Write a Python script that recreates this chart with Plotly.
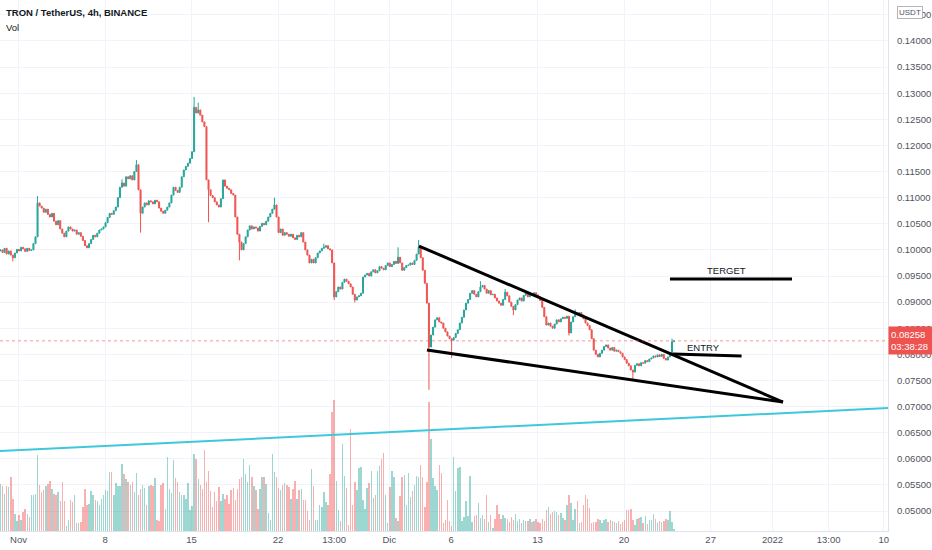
import pandas as pd
import plotly.graph_objects as go

# ---------------- data ----------------
start_time = "2021-10-30 13:00"   # first visible 4h candle
first_open = 0.0998

closes = [
    0.1000, 0.0995, 0.1003, 0.0992, 0.0998, 0.0990, 0.0985, 0.0994, 0.1001, 0.0998,
    0.1005, 0.1002, 0.0997, 0.1003, 0.0999, 0.1000, 0.1012, 0.1025, 0.1090, 0.1084,
    0.1080, 0.1072, 0.1078, 0.1068, 0.1063, 0.1070, 0.1055, 0.1048, 0.1056, 0.1040,
    0.1032, 0.1025, 0.1036, 0.1044, 0.1040, 0.1036, 0.1038, 0.1030, 0.1033, 0.1026,
    0.1018, 0.1008, 0.1004, 0.1012, 0.1020, 0.1028, 0.1025, 0.1032, 0.1038, 0.1040,
    0.1044, 0.1052, 0.1062, 0.1070, 0.1068, 0.1075, 0.1082, 0.1100, 0.1120, 0.1128,
    0.1122, 0.1140, 0.1136, 0.1142, 0.1134, 0.1150, 0.1163, 0.1115, 0.1070, 0.1082,
    0.1090, 0.1086, 0.1094, 0.1092, 0.1088, 0.1095, 0.1092, 0.1080, 0.1074, 0.1070,
    0.1076, 0.1082, 0.1090, 0.1105, 0.1120, 0.1114, 0.1110, 0.1120, 0.1140, 0.1153,
    0.1160, 0.1166, 0.1175, 0.1188, 0.1273, 0.1262, 0.1268, 0.1258, 0.1245, 0.1236,
    0.1134, 0.1115, 0.1104, 0.1100, 0.1092, 0.1086, 0.1082, 0.1098, 0.1134, 0.1122,
    0.1118, 0.1115, 0.1108, 0.1105, 0.1063, 0.1030, 0.1015, 0.1000, 0.1012, 0.1025,
    0.1038, 0.1046, 0.1040, 0.1044, 0.1042, 0.1036, 0.1045, 0.1051, 0.1048, 0.1055,
    0.1063, 0.1070, 0.1078, 0.1086, 0.1063, 0.1033, 0.1040, 0.1028, 0.1033, 0.1030,
    0.1026, 0.1030, 0.1023, 0.1020, 0.1028, 0.1025, 0.1033, 0.1015, 0.1000, 0.0990,
    0.0975, 0.0982, 0.0975, 0.0985, 0.0994, 0.0998, 0.1003, 0.1005, 0.1008, 0.1002,
    0.1000, 0.0975, 0.0910, 0.0920, 0.0929, 0.0925, 0.0938, 0.0944, 0.0940, 0.0935,
    0.0929, 0.0915, 0.0904, 0.0910, 0.0912, 0.0917, 0.0948, 0.0952, 0.0955, 0.0950,
    0.0958, 0.0962, 0.0956, 0.0960, 0.0968, 0.0965, 0.0962, 0.0970, 0.0975, 0.0968,
    0.0972, 0.0978, 0.0974, 0.0986, 0.0975, 0.0961, 0.0966, 0.0970, 0.0971, 0.0975,
    0.0972, 0.0980, 0.0992, 0.1005, 0.0985, 0.0961, 0.0936, 0.0898, 0.0814, 0.0837,
    0.0852, 0.0866, 0.0870, 0.0862, 0.0860, 0.0850, 0.0843, 0.0835, 0.0830, 0.0827,
    0.0832, 0.0840, 0.0847, 0.0860, 0.0871, 0.0885, 0.0898, 0.0905, 0.0917, 0.0922,
    0.0915, 0.0910, 0.0920, 0.0929, 0.0932, 0.0925, 0.0917, 0.0922, 0.0914, 0.0915,
    0.0908, 0.0902, 0.0898, 0.0894, 0.0905, 0.0919, 0.0912, 0.0900, 0.0892, 0.0885,
    0.0895, 0.0904, 0.0908, 0.0902, 0.0913, 0.0918, 0.0910, 0.0915, 0.0913, 0.0918,
    0.0914, 0.0910, 0.0903, 0.0890, 0.0872, 0.0856, 0.0860, 0.0854, 0.0850, 0.0858,
    0.0866, 0.0862, 0.0868, 0.0871, 0.0869, 0.0873, 0.0841, 0.0862, 0.0872, 0.0879,
    0.0876, 0.0880, 0.0875, 0.0868, 0.0860, 0.0855, 0.0847, 0.0830, 0.0808, 0.0800,
    0.0795, 0.0802, 0.0808, 0.0815, 0.0818, 0.0812, 0.0808, 0.0813, 0.0806, 0.0808,
    0.0805, 0.0802, 0.0795, 0.0790, 0.0783, 0.0778, 0.0770, 0.0766, 0.0779, 0.0782,
    0.0778, 0.0784, 0.0783, 0.0788, 0.0786, 0.0791, 0.0793, 0.0797, 0.0795, 0.0799,
    0.0796, 0.0800, 0.0792, 0.0789, 0.0795, 0.0800, 0.0824, 0.08258,
]

# notable wicks (candle index -> price)
wick_highs = {18: 0.1103, 59: 0.1135, 66: 0.1172, 94: 0.1293, 96: 0.1282,
              133: 0.1100, 157: 0.1012, 193: 0.1005, 203: 0.1019,
              233: 0.0940, 245: 0.0925, 279: 0.0886, 326: 0.0830}
wick_lows = {6: 0.0978, 68: 0.1033, 101: 0.1053, 116: 0.0980, 162: 0.0904,
             172: 0.0899, 208: 0.0732, 219: 0.0793, 249: 0.0875,
             276: 0.0836, 307: 0.0751}

volumes = [
    143, 136, 113, 138, 133, 163, 98, 53, 30,
    48, 33, 58, 68, 53, 43, 108, 108, 113, 230, 140,
    118, 123, 138, 143, 153, 128, 113, 108, 118, 90, 150, 90,
    16, 33, 93, 88, 110, 23,
    23, 28, 73, 128, 80, 83, 120, 110, 95, 90, 78,
    98, 110, 123, 120, 180, 180, 110,
    146, 138, 138, 203, 173, 158, 150, 140, 150, 118, 176,
    108, 128, 140, 130, 78, 138, 140, 136, 160,
    33, 30, 140, 146, 66, 225, 128, 115, 215,
    160, 148, 118, 110, 108, 98, 146, 63,
    75, 233, 218, 158, 140, 128, 246,
    150, 183, 120, 73, 118, 90, 133,
    90, 112, 98, 110, 83, 125, 130, 93, 128,
    158, 165, 218, 173, 150, 200, 165, 136,
    123, 68, 128, 165, 165, 143, 56,
    33, 233, 178, 163, 130, 126, 140,
    146, 140, 133, 98, 128, 153, 96,
    123, 128, 93, 93, 60, 33, 188, 136, 33,
    33, 78, 73, 118, 88, 78, 173,
    360, 398, 153,
    63, 30, 263,
    168, 130, 18, 310,
    80, 150, 126, 190, 193, 93, 66,
    130, 146, 183, 100, 110, 183, 196,
    218, 236, 108, 23, 133, 183, 163, 40, 30,
    106, 165, 170, 78, 175, 103, 120, 140, 168, 165, 200, 163, 73,
    150, 393, 280, 160, 136, 123, 201, 176, 23, 33,
    95, 30, 16, 226, 120, 190, 193, 30,
    43, 90, 46, 168, 28, 46, 50,
    86, 38, 50, 36, 108, 26, 48,
    10, 36, 78, 53, 36, 50, 40, 36, 28, 43, 33, 53,
    30, 36, 23, 33, 30, 30, 36, 28, 30, 36, 26, 23, 36, 30,
    63, 73, 53, 58, 60, 58, 48, 56, 40, 33, 78, 110, 86, 33, 68, 90,
    25, 26, 78, 108, 98, 70, 23, 26, 28, 36, 33, 23,
    33, 36, 28, 33, 30, 28, 23, 30, 20, 26, 33, 63, 65,
    68, 33, 18, 36, 40, 43, 23, 46, 20, 33, 33, 53,
    36, 23, 30, 28, 30, 36, 33, 60, 28, 6,
]

x_tick_vals = ["2021-11-01", "2021-11-08", "2021-11-15", "2021-11-22",
               "2021-11-26 13:00", "2021-12-01", "2021-12-06", "2021-12-13",
               "2021-12-20", "2021-12-27", "2022-01-01", "2022-01-05 13:00",
               "2022-01-10"]
x_tick_text = ["Nov", "8", "15", "22", "13:00", "Dic", "6", "13", "20", "27",
               "2022", "13:00", "10"]

# hand-drawn lines from the reference
upper_trend_x = ["2021-12-03 09:40", "2022-01-01 20:25"]
upper_trend_y = [0.10074, 0.07087]
lower_trend_x = ["2021-12-04 01:10", "2022-01-01 20:25"]
lower_trend_y = [0.08083, 0.07087]
target_x = ["2021-12-23 17:00", "2022-01-02 14:00"]
target_y = [0.09442, 0.09442]
entry_x = ["2021-12-23 23:00", "2021-12-29 12:00"]
entry_y = [0.08006, 0.07968]
support_x = ["2021-10-30 12:00", "2022-01-10 08:30"]
support_y = [0.06149, 0.06970]

last_price = 0.08258
countdown = "03:38:28"

# ---------------- build ----------------
n = min(len(closes), len(volumes))
closes = closes[:n]
volumes = volumes[:n]
times = pd.date_range(start_time, periods=n, freq="4h")
opens = [first_open] + closes[:-1]
highs = [max(o, c) for o, c in zip(opens, closes)]
lows = [min(o, c) for o, c in zip(opens, closes)]
for k, v in wick_highs.items():
    if k < n:
        highs[k] = max(highs[k], v)
for k, v in wick_lows.items():
    if k < n:
        lows[k] = min(lows[k], v)

GREEN = "#26a69a"
RED = "#ef5350"
vol_colors = ["rgba(38,166,154,0.45)" if c >= o else "rgba(239,83,80,0.45)"
              for o, c in zip(opens, closes)]

FONT = "Liberation Sans"
TXT = "#131722"

fig = go.Figure()
fig.add_trace(go.Bar(x=times, y=volumes, marker_color=vol_colors,
                     marker_line_width=0, width=4 * 3600 * 1000 * 0.7,
                     yaxis="y", hoverinfo="skip"))

fig.add_trace(go.Candlestick(
    x=times, open=opens, high=highs, low=lows, close=closes, yaxis="y2",
    increasing=dict(line=dict(color=GREEN, width=1), fillcolor=GREEN),
    decreasing=dict(line=dict(color=RED, width=1), fillcolor=RED),
    whiskerwidth=0))

def line(xs, ys, color, width):
    fig.add_trace(go.Scatter(x=xs, y=ys, mode="lines", yaxis="y2",
                             line=dict(color=color, width=width),
                             hoverinfo="skip", cliponaxis=True))

line(support_x, support_y, "#3fc8dc", 2)
line(upper_trend_x, upper_trend_y, "#000000", 3)
line(lower_trend_x, lower_trend_y, "#000000", 3)
line(target_x, target_y, "#000000", 3)
line(entry_x, entry_y, "#000000", 3)

fig.add_shape(type="line", xref="paper", yref="y2", x0=0, x1=1,
              y0=last_price, y1=last_price,
              line=dict(color=RED, width=1, dash="dot"), opacity=0.6)

annotations = [
    dict(xref="paper", yref="paper", x=0.004, y=0.977, xanchor="left",
         yanchor="middle", showarrow=False, text="<b>TRON / TetherUS, 4h, BINANCE</b>",
         font=dict(family=FONT, size=9.5, color=TXT)),
    dict(xref="paper", yref="paper", x=0.004, y=0.949, xanchor="left",
         yanchor="middle", showarrow=False, text="Vol",
         font=dict(family=FONT, size=9.5, color=TXT)),
    dict(xref="x", yref="y2", x="2021-12-28 06:00", y=0.09596, showarrow=False,
         text="TERGET", font=dict(family=FONT, size=9.5, color=TXT)),
    dict(xref="x", yref="y2", x="2021-12-26 11:00", y=0.08140, showarrow=False,
         text="ENTRY", font=dict(family=FONT, size=9.5, color=TXT)),
    dict(xref="paper", yref="y2", x=1.0, y=last_price, xanchor="left",
         yanchor="middle", showarrow=False,
         text=f"{last_price:.5f}<br>{countdown}", align="left",
         bgcolor=RED, borderpad=2, width=40,
         font=dict(family=FONT, size=9.5, color="#ffffff")),
    dict(xref="paper", yref="paper", x=1.0 + 22 / 888, y=0.977, xanchor="center",
         yanchor="middle", showarrow=False, text="USDT", bgcolor="#ffffff",
         bordercolor="#b2b5be", borderwidth=1, borderpad=1,
         font=dict(family=FONT, size=8, color="#50535e")),
]

fig.update_layout(
    width=932, height=550,
    margin=dict(l=0, r=44, t=0, b=19),
    paper_bgcolor="#ffffff", plot_bgcolor="#ffffff",
    showlegend=False, bargap=0,
    annotations=annotations,
    xaxis=dict(type="date", range=["2021-10-30 12:04", "2022-01-10 08:24"],
               tickvals=x_tick_vals, ticktext=x_tick_text,
               showgrid=True, gridcolor="#f0f3fa", gridwidth=1,
               showline=True, linecolor="#e0e3eb", linewidth=1,
               ticks="", tickfont=dict(family=FONT, size=9.5, color="#50535e"),
               rangeslider=dict(visible=False), zeroline=False),
    yaxis=dict(range=[0, 1612], visible=False, showgrid=False, fixedrange=True),
    yaxis2=dict(overlaying="y", side="right",
                range=[0.04617, 0.14785], tick0=0.05, dtick=0.005,
                tickformat=".5f", showgrid=True, gridcolor="#f0f3fa",
                showline=True, linecolor="#e0e3eb", linewidth=1,
                ticks="", ticklabelstandoff=6,
                tickfont=dict(family=FONT, size=9.5, color="#50535e"),
                zeroline=False),
)

fig.write_html(
    "out.html",
    config={"displayModeBar": False},
    post_script="document.body.style.margin='0px';document.body.style.padding='0px';"
                "document.documentElement.style.overflow='hidden';",
)
